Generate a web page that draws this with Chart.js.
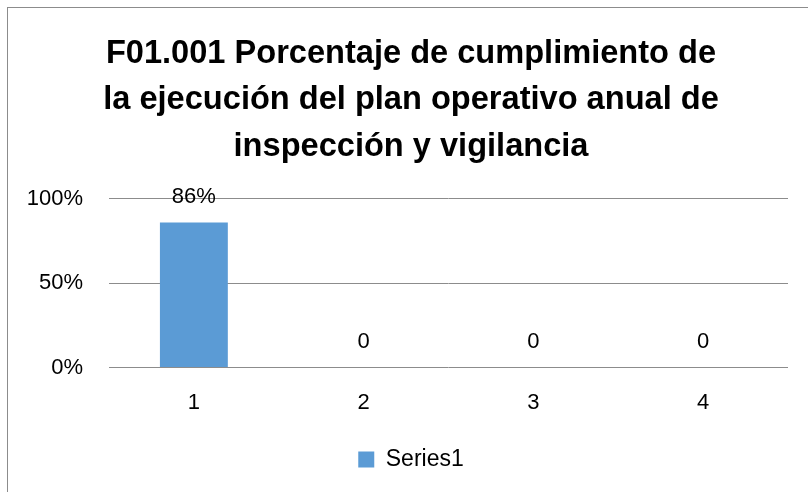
<!DOCTYPE html>
<html>
<head>
<meta charset="utf-8">
<script src="https://cdn.jsdelivr.net/npm/chart.js@4/dist/chart.umd.min.js"></script>
<style>
  html, body { margin: 0; padding: 0; background: #fff; }
  #wrap { position: relative; width: 808px; height: 492px; overflow: hidden; }
  #frame { position: absolute; left: 7px; top: 7px; width: 900px; height: 600px; border: 1px solid #8c8c8c; box-sizing: border-box; }
  canvas { position: absolute; left: 0; top: 0; }
</style>
</head>
<body>
<div id="wrap">
  <div id="frame"></div>
  <canvas id="chart" width="808" height="492"></canvas>
</div>
<script>
'use strict';

/* ─── Data ──────────────────────────────────────────────────── */
const categories = ['1', '2', '3', '4'];
const series1    = [0.86, 0, 0, 0];
const yTicks     = [0, 0.5, 1];
const titleLines = [
  'F01.001 Porcentaje de cumplimiento de',
  'la ejecución del plan operativo anual de',
  'inspección y vigilancia'
];

const FONT = '"Liberation Sans", Arial, sans-serif';

function fmtLabel(v) {
  return v === 0 ? '0' : Math.round(v * 100) + '%';
}

/* ─── Value labels above bars ───────────────────────────────── */
const valueLabels = {
  id: 'valueLabels',
  afterLayout(chart) {
    // let the y tick labels run past the left padding instead of being clipped
    chart.scales.y.left = 0;
  },
  afterDatasetsDraw(chart) {
    const ctx  = chart.ctx;
    const meta = chart.getDatasetMeta(0);
    ctx.save();
    ctx.font = '22px ' + FONT;
    ctx.fillStyle = '#000';
    ctx.textAlign = 'center';
    ctx.textBaseline = 'middle';
    meta.data.forEach((bar, i) => {
      ctx.fillText(fmtLabel(series1[i]), bar.x, bar.y - 26);
    });
    ctx.restore();
  }
};

Chart.defaults.color = '#000';
Chart.defaults.font.family = FONT;

new Chart(document.getElementById('chart'), {
  type: 'bar',
  data: {
    labels: categories,
    datasets: [{
      label: 'Series1',
      data: series1,
      backgroundColor: '#5b9bd5',
      borderWidth: 0,
      barPercentage: 0.4,
      categoryPercentage: 1
    }]
  },
  options: {
    responsive: false,
    animation: false,
    layout: { padding: { left: 34, right: 20, top: 0, bottom: 11 } },
    plugins: {
      title: {
        display: true,
        text: titleLines,
        color: '#000',
        font: { size: 32.6, weight: 'bold', lineHeight: 1.42 },
        padding: { top: 31, bottom: 29 }
      },
      legend: {
        position: 'bottom',
        labels: {
          boxWidth: 16,
          boxHeight: 16,
          font: { size: 23 },
          color: '#000'
        }
      },
      tooltip: { enabled: false }
    },
    scales: {
      x: {
        grid: { display: false, drawTicks: false },
        border: { display: false },
        ticks: { font: { size: 22 }, color: '#000', padding: 22 }
      },
      y: {
        min: 0,
        max: 1,
        afterBuildTicks: scale => { scale.ticks = yTicks.map(v => ({ value: v })); },
        afterFit: scale => { scale.width = 75; },
        grid: { color: '#8c8c8c', lineWidth: 1, drawTicks: false },
        border: { display: false },
        ticks: {
          font: { size: 22 },
          color: '#000',
          padding: 26,
          callback: v => Math.round(v * 100) + '%'
        }
      }
    }
  },
  plugins: [valueLabels]
});
</script>
</body>
</html>
